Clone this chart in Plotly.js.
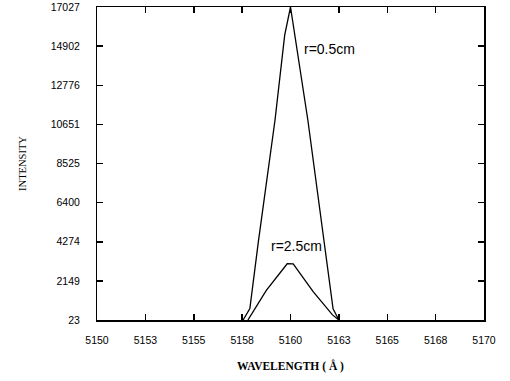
<!DOCTYPE html>
<html>
<head>
<meta charset="utf-8">
<script src="https://cdn.plot.ly/plotly-3.0.1.min.js"></script>
<style>html,body{margin:0;padding:0;background:#fff;}#chart{width:510px;height:381px;}</style>
</head>
<body>
<div id="chart"></div>
<script>
// Data
var wlSmallR = [5157.55, 5157.9, 5158.35, 5159.2, 5159.7, 5160.0, 5160.9, 5161.75, 5162.2, 5162.5];
var intSmallR = [23, 640, 4360, 10890, 15500, 17027, 10860, 4290, 630, 23];

var wlLargeR = [5157.8, 5158.75, 5159.83, 5160.14, 5161.16, 5162.17, 5162.5];
var intLargeR = [23, 1630, 3080, 3070, 1580, 300, 23];

var xTickVals = [5150, 5152.5, 5155, 5157.5, 5160, 5162.5, 5165, 5167.5, 5170];
var xTickText = ["5150", "5153", "5155", "5158", "5160", "5163", "5165", "5168", "5170"];
var yTickVals = [23, 2148.5, 4274, 6399.5, 8525, 10650.5, 12776, 14901.5, 17027];
var yTickText = ["23", "2149", "4274", "6400", "8525", "10651", "12776", "14902", "17027"];

var seriesNames = ["r=0.5cm", "r=2.5cm"];
var xRange = [5150, 5170];
var yRange = [23, 17027];

var traces = [
  {x: wlSmallR, y: intSmallR, name: seriesNames[0], type: "scatter", mode: "lines",
   xaxis: "x", yaxis: "y", line: {color: "#000", width: 1.3}},
  {x: wlLargeR, y: intLargeR, name: seriesNames[1], type: "scatter", mode: "lines",
   xaxis: "x2", yaxis: "y2", line: {color: "#000", width: 1.3}}
];

var tickFont = {family: "Liberation Sans, Arial, sans-serif", size: 10.5, color: "#000"};

var layout = {
  width: 510, height: 381,
  margin: {l: 97, r: 26, t: 7, b: 61},
  paper_bgcolor: "#fff", plot_bgcolor: "#fff",
  showlegend: false,
  // frame + inward ticks
  xaxis: {
    range: xRange, tickmode: "array", tickvals: xTickVals, showticklabels: false,
    ticks: "inside", ticklen: 6, tickwidth: 1.5, tickcolor: "#000",
    showline: true, linecolor: "#000", linewidth: 1.5, mirror: "ticks",
    showgrid: false, zeroline: false
  },
  yaxis: {
    range: yRange, tickmode: "array", tickvals: yTickVals, showticklabels: false,
    ticks: "inside", ticklen: 6, tickwidth: 1.5, tickcolor: "#000",
    showline: true, linecolor: "#000", linewidth: 1.5, mirror: "ticks",
    showgrid: false, zeroline: false
  },
  // same scales, carrying the tick labels set away from the frame
  xaxis2: {
    overlaying: "x", anchor: "y2", side: "bottom", range: xRange,
    tickmode: "array", tickvals: xTickVals, ticktext: xTickText,
    ticks: "outside", ticklen: 10, tickcolor: "rgba(0,0,0,0)",
    showline: false, showgrid: false, zeroline: false, tickfont: tickFont,
    title: {text: "WAVELENGTH ( Å )", font: {family: "Liberation Serif, serif", size: 11.5, color: "#000", weight: "bold"}, standoff: 17}
  },
  yaxis2: {
    overlaying: "y", anchor: "x2", side: "left", range: yRange,
    tickmode: "array", tickvals: yTickVals, ticktext: yTickText,
    ticks: "outside", ticklen: 14, tickcolor: "rgba(0,0,0,0)",
    showline: false, showgrid: false, zeroline: false, tickfont: tickFont,
    title: {text: "INTENSITY", font: {family: "Liberation Serif, serif", size: 10.5, color: "#000"}, standoff: 22}
  },
  annotations: [
    {x: 5162.0, y: 14750, xref: "x", yref: "y", text: seriesNames[0], showarrow: false,
     font: {family: "Liberation Sans, Arial, sans-serif", size: 14, color: "#000"}},
    {x: 5160.3, y: 4050, xref: "x", yref: "y", text: seriesNames[1], showarrow: false,
     font: {family: "Liberation Sans, Arial, sans-serif", size: 14, color: "#000"}}
  ]
};

Plotly.newPlot("chart", traces, layout, {displayModeBar: false, staticPlot: true});
</script>
</body>
</html>
